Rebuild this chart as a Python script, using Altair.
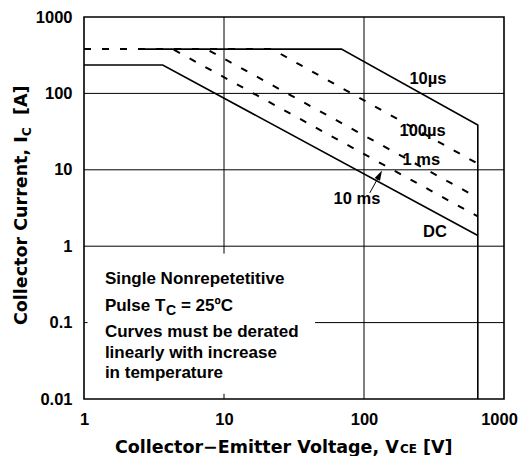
import altair as alt
import pandas as pd

# ---------------- data ----------------
# safe-operating-area curves (Vce [V], Ic [A])
v_10us = [2.64, 69, 650, 650]
i_10us = [380, 380, 38.6, 0.01]
v_100us = [1, 22, 650]
i_100us = [380, 380, 12.0]
v_1ms = [1, 7.5, 650]
i_1ms = [380, 380, 4.3]
v_10ms = [1, 4.3, 650]
i_10ms = [380, 380, 2.45]
v_dc = [1, 3.65, 650]
i_dc = [235, 235, 1.38]

# curve labels
label_text = ["10µs", "100µs", "1 ms", "10 ms", "DC"]
label_v = [286, 262, 257, 89, 321]
label_i = [155, 32.4, 13.5, 4.16, 1.53]

# arrow for the 10 ms label
arrow_v = [110, 129.4]
arrow_i = [4.98, 8.55]
arrow_head_v = [129.4]
arrow_head_i = [8.55]

# axis ticks
x_ticks = [1, 10, 100, 1000]
y_ticks = [0.01, 0.1, 1, 10, 100, 1000]

# grid segments (start / end)
grid_v1 = [10, 10, 100, 1, 1, 1, 44.7, 1]
grid_v2 = [10, 10, 100, 1000, 1000, 1000, 1000, 1.06]
grid_i1 = [0.8, 0.01, 0.01, 100, 10, 1, 0.1, 0.1]
grid_i2 = [1000, 0.0117, 1000, 100, 10, 1, 0.1, 0.1]

# note block
note_lines = ["Single Nonrepetetitive", "Pulse T", "Curves must be derated",
              "linearly with increase", "in temperature"]
note_i = [0.32, 0.1416, 0.0645, 0.0348, 0.01875]
note_v = [1.41, 1.41, 1.41, 1.41, 1.41]
note_sub = "C"
note_tail = "= 25ºC"

# ---------------- tables ----------------
def curve_df(name, vs, is_):
    return pd.DataFrame({"curve": name, "v": vs, "i": is_, "idx": range(len(vs))})

solid = pd.concat([curve_df("10µs", v_10us, i_10us), curve_df("DC", v_dc, i_dc)])
dashed = pd.concat([curve_df("100µs", v_100us, i_100us),
                    curve_df("1 ms", v_1ms, i_1ms),
                    curve_df("10 ms", v_10ms, i_10ms)])
grid = pd.DataFrame({"v": grid_v1, "v2": grid_v2, "i": grid_i1, "i2": grid_i2})
labels = pd.DataFrame({"t": label_text, "v": label_v, "i": label_i})
arrow = pd.DataFrame({"v": [arrow_v[0]], "v2": [arrow_v[1]], "i": [arrow_i[0]], "i2": [arrow_i[1]]})
arrow_head = pd.DataFrame({"v": arrow_head_v, "i": arrow_head_i})
notes = pd.DataFrame({"t": note_lines, "v": note_v, "i": note_i})
pulse = notes.iloc[[1]]
one = pd.DataFrame({"k": [0]})

xs = alt.Scale(type="log", domain=[1, 1000], nice=False)
ys = alt.Scale(type="log", domain=[0.01, 1000], nice=False)
x_axis = alt.Axis(values=x_ticks, format="~g", title=None, grid=False, domain=False,
                  ticks=False, tickSize=0, labelPadding=12, labelFlush=False, labelOverlap=False,
                  labelOffset={"condition": {"test": "datum.value >= 1000", "value": -5}, "value": 0})
y_axis = alt.Axis(values=y_ticks, format="~g", title=None, grid=False, domain=False,
                  ticks=False, tickSize=0, labelPadding=12, labelFlush=False, labelOverlap=False)

def X(f="v"):
    return alt.X(f + ":Q", scale=xs, axis=x_axis)

def Y(f="i"):
    return alt.Y(f + ":Q", scale=ys, axis=y_axis)

grid_layer = alt.Chart(grid).mark_rule(color="black", strokeWidth=1).encode(
    x=X(), x2="v2:Q", y=Y(), y2="i2:Q")

solid_layer = alt.Chart(solid).mark_line(color="black", strokeWidth=1.6, clip=True).encode(
    x=X(), y=Y(), detail="curve:N", order="idx:Q")

dashed_layer = alt.Chart(dashed).mark_line(color="black", strokeWidth=2, strokeDash=[7, 11], clip=True).encode(
    x=X(), y=Y(), detail="curve:N", order="idx:Q")

TXT = dict(font="Liberation Sans", fontWeight="bold", color="black")

label_layer = alt.Chart(labels).mark_text(fontSize=16.5, align="center", baseline="middle", **TXT).encode(
    x=X(), y=Y(), text="t:N")

arrow_layer = alt.Chart(arrow).mark_rule(color="black", strokeWidth=1).encode(
    x=X(), x2="v2:Q", y=Y(), y2="i2:Q")

head_layer = alt.Chart(arrow_head).mark_point(
    shape="M0,-1L0.6,1L-0.6,1Z", filled=True, color="black", opacity=1, size=100, angle=28
).encode(x=X(), y=Y())

note_layer = alt.Chart(notes).mark_text(fontSize=17, align="left", baseline="alphabetic", **TXT).encode(
    x=X(), y=Y(), text="t:N")

sub_layer = alt.Chart(pulse).mark_text(fontSize=14, align="left", baseline="alphabetic", dx=61, dy=4,
                                       text=note_sub, **TXT).encode(x=X(), y=Y())
tail_layer = alt.Chart(pulse).mark_text(fontSize=17, align="left", baseline="alphabetic", dx=76,
                                        text=note_tail, **TXT).encode(x=X(), y=Y())

TT = dict(font="DejaVu Sans", fontWeight="bold", color="black", baseline="alphabetic", align="left")
xt1 = alt.Chart(one).mark_text(text="Collector\u2212Emitter Voltage, V", fontSize=17.5, **TT).encode(
    x=alt.value(31), y=alt.value(436))
xt2 = alt.Chart(one).mark_text(text="CE", fontSize=12, **TT).encode(x=alt.value(316), y=alt.value(436))
xt3 = alt.Chart(one).mark_text(text="[V]", fontSize=17.5, **TT).encode(x=alt.value(339), y=alt.value(436))

yt1 = alt.Chart(one).mark_text(text="Collector Current, I", fontSize=17.5, angle=270, **TT).encode(
    x=alt.value(-57), y=alt.value(308))
yt2 = alt.Chart(one).mark_text(text="C", fontSize=12, angle=270, **TT).encode(
    x=alt.value(-53), y=alt.value(119))
yt3 = alt.Chart(one).mark_text(text="[A]", fontSize=17.5, angle=270, **TT).encode(
    x=alt.value(-57), y=alt.value(98))

chart = alt.layer(
    grid_layer, solid_layer, dashed_layer, arrow_layer, head_layer, label_layer,
    note_layer, sub_layer, tail_layer, xt1, xt2, xt3, yt1, yt2, yt3
).properties(
    width=420, height=382, autosize="none",
    padding={"left": 76, "top": 9, "right": 14, "bottom": 57},
    background="white",
).configure_view(
    stroke="black", strokeWidth=1.6
).configure_axis(
    labelFont="Liberation Sans", labelFontWeight="bold", labelFontSize=16.5, labelColor="black"
)

chart.save("out.html", embed_options={"renderer": "svg", "actions": False})
